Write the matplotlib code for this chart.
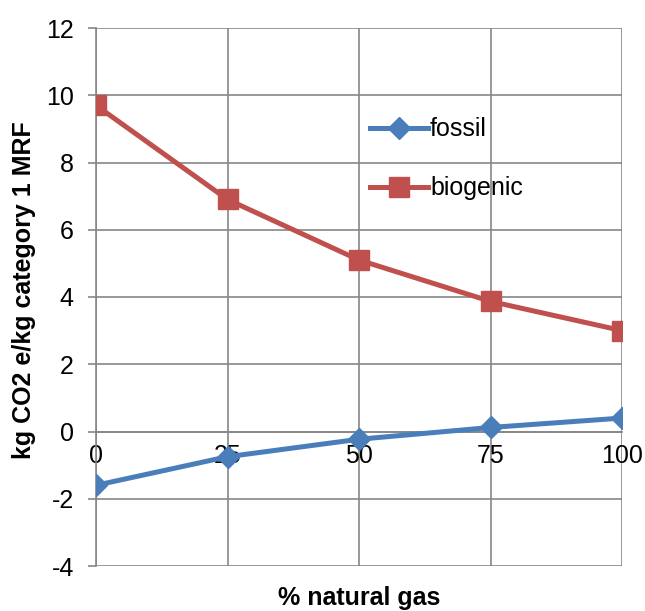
import matplotlib.pyplot as plt

plt.rcParams['font.family'] = ['Liberation Sans', 'DejaVu Sans']
plt.rcParams['axes.unicode_minus'] = False

# Data
gas_pct = [0, 25, 50, 75, 100]
fossil = [-1.6, -0.75, -0.23, 0.12, 0.4]
biogenic = [9.7, 6.9, 5.1, 3.87, 3.0]

blue = '#4a7ebb'
red = '#c0504d'
grid_c = '#868686'
fs = 18

fig = plt.figure(figsize=(6.45, 6.11), dpi=100)
ax = fig.add_axes([96 / 645, 1 - 566 / 611, 526 / 645, 538 / 611])

ax.plot(gas_pct, fossil, color=blue, lw=3.6, marker='D', markersize=11.5,
        label='fossil', zorder=3)
ax.plot(gas_pct, biogenic, color=red, lw=3.6, marker='s', markersize=14,
        label='biogenic', zorder=3)

ax.set_xlim(0, 100)
ax.set_ylim(-4, 12)
ax.set_xticks(gas_pct)
ax.set_yticks(range(-4, 13, 2))
ax.grid(True, color=grid_c, lw=1.2)
ax.set_axisbelow(True)

for s in ['top', 'right']:
    ax.spines[s].set_visible(False)
ax.spines['left'].set_color(grid_c)
ax.spines['left'].set_linewidth(1.2)
ax.spines['bottom'].set_position(('data', 0))
ax.spines['bottom'].set_color(grid_c)
ax.spines['bottom'].set_linewidth(1.2)

ax.tick_params(axis='y', length=6, width=1.2, color=grid_c, pad=10,
               labelsize=fs)
ax.tick_params(axis='x', length=0, pad=9, labelsize=fs)

leg = ax.legend(loc='upper left', bbox_to_anchor=(0.521, 0.834), frameon=False,
                fontsize=fs, handlelength=2.3, handletextpad=0.1,
                labelspacing=1.4, borderaxespad=0, borderpad=0)

fig.text(24 / 645, 1 - 290 / 611, 'kg CO2 e/kg category 1 MRF', rotation=90,
         ha='center', va='center', fontsize=fs, fontweight='bold')
fig.text(359 / 645, 1 - 598 / 611, '% natural gas', ha='center', va='center',
         fontsize=fs, fontweight='bold')

fig.savefig('out.png', dpi=100)
